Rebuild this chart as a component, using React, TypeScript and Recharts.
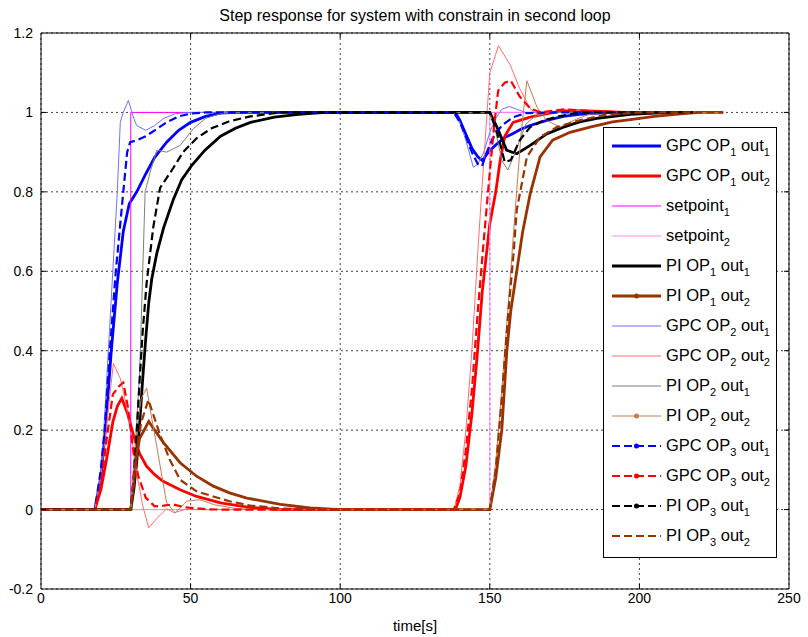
import React from 'react';
import { LineChart, Line, XAxis, YAxis, CartesianGrid, ReferenceArea, ReferenceLine } from 'recharts';

type P = [number, number];

const title = 'Step response for system with constrain in second loop';
const xLabel = 'time[s]';
const xTicks = [0, 50, 100, 150, 200, 250];
const yTicks = [-0.2, 0, 0.2, 0.4, 0.6, 0.8, 1, 1.2];

const gpc1Out1: P[] = [[0,0],[18,0],[20,0.08],[21.5,0.2],[23.5,0.4],[25.5,0.57],[27.5,0.7],[29.5,0.77],[32,0.8],[35,0.845],[38,0.887],[42,0.925],[46,0.955],[50,0.975],[55,0.99],[60,0.998],[65,1],[138.5,1],[140,0.98],[142,0.945],[144,0.91],[146,0.888],[147.5,0.879],[149.5,0.9],[152.4,0.921],[155,0.937],[157.8,0.947],[160.5,0.958],[163.5,0.967],[169,0.98],[174.6,0.99],[180,0.995],[190,1],[210,1]];
const gpc1Out2: P[] = [[0,0],[18,0],[20,0.05],[22,0.13],[24,0.22],[25.5,0.26],[27,0.28],[29,0.24],[31,0.185],[33,0.14],[35.3,0.109],[38,0.088],[40.8,0.071],[46.5,0.05],[52,0.033],[60,0.017],[69,0.006],[80,0],[138.5,0],[140,0.03],[142,0.11],[144,0.24],[145.7,0.38],[147.5,0.55],[150,0.72],[152,0.8],[153.5,0.88],[155,0.94],[157.8,0.975],[163.5,0.988],[170,0.998],[176,1.005],[185,1.003],[195,1],[210,1]];
const setpoint1: P[] = [[0,0],[30,0],[30,1],[228,1]];
const setpoint2: P[] = [[0,0],[150,0],[150,1],[228,1]];
const pi1Out1: P[] = [[0,0],[30,0],[31,0.05],[32,0.12],[33,0.22],[34,0.33],[35,0.43],[36,0.52],[37,0.58],[38.7,0.645],[41,0.71],[44.2,0.78],[47,0.83],[50.4,0.867],[54.8,0.905],[60,0.94],[65,0.96],[70,0.975],[78,0.988],[86,0.995],[95,1],[150,1],[152.4,0.963],[155.6,0.905],[159,0.896],[163.5,0.917],[169,0.946],[174.6,0.963],[180,0.976],[185.8,0.985],[197,0.995],[210,1],[218,1]];
const pi1Out2: P[] = [[0,0],[30,0],[31,0.07],[32,0.14],[33,0.18],[34.5,0.2],[36,0.222],[38,0.2],[41,0.168],[46.5,0.118],[52,0.084],[57.6,0.059],[63,0.042],[68.8,0.029],[80,0.013],[90,0.004],[100,0],[150,0],[152,0.08],[154,0.2],[155.7,0.4],[157,0.5],[159,0.6],[161,0.7],[163.5,0.795],[166.8,0.888],[171,0.93],[176.8,0.95],[183.5,0.963],[191,0.976],[197,0.982],[205,0.99],[213,0.996],[220,1],[228,1]];
const gpc2Out1: P[] = [[0,0],[18,0],[20,0.1],[21,0.2],[22.5,0.4],[24,0.6],[25.5,0.8],[26.5,0.975],[27.5,1.0],[29.2,1.03],[31,0.985],[32,0.967],[35,0.955],[38,0.967],[41,0.985],[45,0.997],[50,1],[138,1],[140,0.975],[142,0.93],[144.5,0.862],[146,0.87],[148,0.9],[150,0.95],[152,0.985],[154,1.008],[156.5,1.015],[159,1.008],[162,1],[210,1]];
const gpc2Out2: P[] = [[0,0],[18,0],[20,0.08],[22,0.22],[24.2,0.368],[26.5,0.33],[28,0.28],[29.8,0.21],[32,0.09],[34,0.01],[36,-0.046],[39,-0.02],[42,0.002],[44.5,-0.008],[48,0],[138,0],[140,0.06],[142,0.2],[144,0.4],[146,0.65],[148,0.88],[150,1.1],[152.9,1.168],[156.8,1.12],[160,1.06],[163.5,1.01],[166,0.995],[170,1],[175,1.008],[185,1.002],[210,1]];
const pi2Out1: P[] = [[0,0],[30,0],[31,0.1],[32,0.22],[33,0.35],[34,0.6],[34.8,0.8],[36.5,0.85],[38.7,0.905],[42,0.9],[46.5,0.917],[51,0.96],[55,0.985],[60,0.997],[65,1],[150,1],[152,0.95],[154,0.88],[156,0.855],[158,0.89],[160,0.93],[162,0.97],[165,0.99],[170,1],[218,1]];
const pi2Out2: P[] = [[0,0],[30,0],[31,0.12],[32,0.2],[33.5,0.28],[35.3,0.306],[37,0.23],[38.7,0.159],[40.5,0.08],[42,0.017],[44.8,-0.008],[48.7,0.021],[53,0.025],[58,0.012],[65,0.003],[70,0],[150,0],[152,0.12],[154,0.3],[156,0.5],[158.5,0.754],[160.5,0.95],[162.4,1.08],[165.8,1.013],[169,0.98],[173.5,0.963],[178,0.98],[183,0.995],[190,1],[228,1]];
const gpc3Out1: P[] = [[0,0],[18,0],[20,0.1],[21.3,0.2],[23,0.4],[25,0.6],[27.5,0.8],[28.8,0.9],[29.8,0.925],[32,0.93],[35,0.94],[38,0.955],[42,0.975],[46,0.99],[50,0.997],[55,1],[138,1],[140,0.975],[142,0.94],[144,0.9],[146,0.87],[147.4,0.865],[149,0.9],[151,0.935],[154,0.967],[157.8,0.988],[162,0.998],[170,1],[210,1]];
const gpc3Out2: P[] = [[0,0],[18,0],[20,0.06],[22,0.18],[24,0.29],[26,0.31],[27.5,0.32],[29,0.26],[30,0.2],[31,0.14],[32.5,0.085],[35,0.03],[38,0.008],[41,0.01],[44,0.013],[48,0.006],[55,0.001],[60,0],[138,0],[140,0.04],[142,0.15],[144,0.3],[146,0.5],[148,0.68],[150,0.85],[151.5,0.97],[152.8,1.055],[155,1.075],[157,1.08],[160,1.04],[163.5,1.01],[167,1],[175,1.008],[185,1.003],[195,1],[210,1]];
const pi3Out1: P[] = [[0,0],[30,0],[31,0.08],[32,0.2],[33,0.33],[34,0.45],[35.3,0.57],[37.5,0.71],[39.8,0.81],[44.2,0.86],[47.5,0.9],[52,0.935],[57,0.96],[63,0.978],[70,0.99],[80,1],[150,1],[152,0.96],[153.5,0.92],[155,0.875],[157,0.88],[160,0.93],[163.5,0.963],[168,0.98],[173,0.99],[180,1],[218,1]];
const pi3Out2: P[] = [[0,0],[30,0],[31,0.08],[32,0.15],[33.5,0.22],[35.9,0.276],[37.5,0.24],[39.8,0.188],[43,0.126],[46.5,0.075],[52,0.046],[57.6,0.033],[63,0.021],[70,0.01],[80,0.003],[90,0],[150,0],[152,0.1],[154,0.28],[156,0.48],[158,0.65],[159,0.754],[162.4,0.888],[166.8,0.938],[172.4,0.963],[180,0.98],[188,0.993],[200,1],[228,1]];

type S = { id: string; base: string; opSub: string; outSub: string; data: P[]; color: string; width: number; dash?: string; marker?: boolean };

const series: S[] = [
  { id: 'a', base: 'GPC OP', opSub: '1', outSub: '1', data: gpc1Out1, color: '#0000FF', width: 2.8 },
  { id: 'b', base: 'GPC OP', opSub: '1', outSub: '2', data: gpc1Out2, color: '#FF0000', width: 2.8 },
  { id: 'c', base: 'setpoint', opSub: '', outSub: '1', data: setpoint1, color: '#FF00FF', width: 1 },
  { id: 'd', base: 'setpoint', opSub: '', outSub: '2', data: setpoint2, color: '#FF88FF', width: 1 },
  { id: 'e', base: 'PI OP', opSub: '1', outSub: '1', data: pi1Out1, color: '#000000', width: 2.8 },
  { id: 'f', base: 'PI OP', opSub: '1', outSub: '2', data: pi1Out2, color: '#993300', width: 2.8, marker: true },
  { id: 'g', base: 'GPC OP', opSub: '2', outSub: '1', data: gpc2Out1, color: '#7070FF', width: 1 },
  { id: 'h', base: 'GPC OP', opSub: '2', outSub: '2', data: gpc2Out2, color: '#FF6E6E', width: 1 },
  { id: 'i', base: 'PI OP', opSub: '2', outSub: '1', data: pi2Out1, color: '#7F7F7F', width: 1 },
  { id: 'j', base: 'PI OP', opSub: '2', outSub: '2', data: pi2Out2, color: '#C87A52', width: 1, marker: true },
  { id: 'k', base: 'GPC OP', opSub: '3', outSub: '1', data: gpc3Out1, color: '#0000FF', width: 2.2, dash: '8 4', marker: true },
  { id: 'l', base: 'GPC OP', opSub: '3', outSub: '2', data: gpc3Out2, color: '#FF0000', width: 2.2, dash: '8 4', marker: true },
  { id: 'm', base: 'PI OP', opSub: '3', outSub: '1', data: pi3Out1, color: '#000000', width: 2.2, dash: '8 4', marker: true },
  { id: 'n', base: 'PI OP', opSub: '3', outSub: '2', data: pi3Out2, color: '#993300', width: 2.2, dash: '8 4' },
];

const FONT = '"Liberation Sans", Arial, sans-serif';
const W = 808, H = 637;
const PLOT = { left: 41, top: 33, right: 789, bottom: 589 };

const subStyle: React.CSSProperties = { fontSize: 11, position: 'relative', top: 5 };

function LegendBox() {
  return (
    <div style={{ position: 'absolute', left: 603, top: 127, width: 172, height: 426, border: '1px solid #000', background: '#fff', fontFamily: FONT, paddingTop: 3, boxSizing: 'content-box' }}>
      {series.map((s) => (
        <div key={s.id} style={{ height: 30, display: 'flex', alignItems: 'center' }}>
          <svg width={62} height={30} style={{ flex: '0 0 auto' }}>
            <line x1={8} x2={57} y1={15} y2={15} stroke={s.color} strokeWidth={s.width} strokeDasharray={s.dash} />
            {s.marker ? <circle cx={32.5} cy={15} r={2.5} fill={s.color} /> : null}
          </svg>
          <span style={{ fontSize: 16.5, color: '#000', whiteSpace: 'nowrap', lineHeight: '16px' }}>
            {s.base}
            {s.opSub ? <span style={subStyle}>{s.opSub}</span> : null}
            {s.opSub ? ' out' : ''}
            <span style={subStyle}>{s.outSub}</span>
          </span>
        </div>
      ))}
    </div>
  );
}

export default function App() {
  const tx = 1.67; // tick length in x units (~5px)
  const ty = 0.0126; // tick length in y units (~5px)
  return (
    <div style={{ position: 'absolute', left: 0, top: 0, width: W, height: H, background: '#fff', fontFamily: FONT }}>
      <div style={{ position: 'absolute', left: PLOT.left, width: PLOT.right - PLOT.left, top: 7, textAlign: 'center', fontSize: 16, lineHeight: '17px', color: '#000' }}>{title}</div>
      <LineChart width={W} height={H} margin={{ top: PLOT.top, right: W - PLOT.right, left: 0, bottom: 0 }}>
        <CartesianGrid stroke="#404040" strokeDasharray="2 3" strokeWidth={1} />
        <XAxis dataKey="t" type="number" domain={[0, 250]} ticks={xTicks} allowDataOverflow height={48} axisLine={false} tickLine={false} tickSize={2} tickMargin={2}
          tick={{ fontSize: 14, fill: '#000', fontFamily: FONT }}
          label={{ value: xLabel, position: 'insideBottom', offset: 6, fontSize: 15, fill: '#000', fontFamily: FONT }} />
        <YAxis type="number" domain={[-0.2, 1.2]} ticks={yTicks} allowDataOverflow width={PLOT.left} axisLine={false} tickLine={false} tickSize={6} tickMargin={2}
          tick={{ fontSize: 14, fill: '#000', fontFamily: FONT }} tickFormatter={(v: number) => String(v)} />
        {series.map((s) => (
          <Line key={s.id} data={s.data.map(([t, v]) => ({ t, v }))} dataKey="v" type="linear" stroke={s.color} strokeWidth={s.width}
            strokeDasharray={s.dash} dot={false} activeDot={false} isAnimationActive={false} legendType="none" />
        ))}
        {xTicks.slice(1, -1).map((t) => (
          <ReferenceLine key={'xb' + t} segment={[{ x: t, y: -0.2 }, { x: t, y: -0.2 + ty }]} stroke="#000" strokeWidth={1} />
        ))}
        {xTicks.slice(1, -1).map((t) => (
          <ReferenceLine key={'xt' + t} segment={[{ x: t, y: 1.2 }, { x: t, y: 1.2 - ty }]} stroke="#000" strokeWidth={1} />
        ))}
        {yTicks.slice(1, -1).map((v) => (
          <ReferenceLine key={'yl' + v} segment={[{ x: 0, y: v }, { x: tx, y: v }]} stroke="#000" strokeWidth={1} />
        ))}
        {yTicks.slice(1, -1).map((v) => (
          <ReferenceLine key={'yr' + v} segment={[{ x: 250, y: v }, { x: 250 - tx, y: v }]} stroke="#000" strokeWidth={1} />
        ))}
        <ReferenceArea x1={0} x2={250} y1={-0.2} y2={1.2} fill="none" fillOpacity={0} stroke="#000" strokeWidth={1} />
      </LineChart>
      <LegendBox />
    </div>
  );
}
